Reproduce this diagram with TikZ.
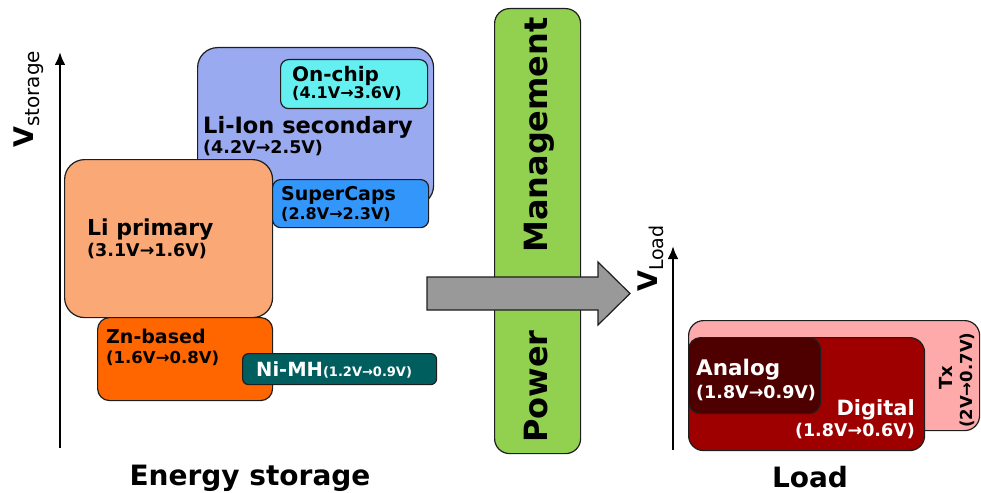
\documentclass[tikz,border=0pt]{standalone}
\usepackage{fontspec}
\setmainfont{DejaVu Sans}
\usetikzlibrary{arrows.meta}
\definecolor{liion}{RGB}{153,170,240}
\definecolor{onchip}{RGB}{100,240,240}
\definecolor{supercap}{RGB}{51,150,250}
\definecolor{liprim}{RGB}{250,168,118}
\definecolor{znb}{RGB}{255,102,0}
\definecolor{nimh}{RGB}{0,94,94}
\definecolor{pmgreen}{RGB}{146,208,80}
\definecolor{flowgray}{RGB}{153,153,153}
\definecolor{txpink}{RGB}{255,170,170}
\definecolor{digred}{RGB}{158,0,0}
\definecolor{anared}{RGB}{78,0,0}
\definecolor{edge}{RGB}{30,30,30}
\newcommand\fsz[1]{\fontsize{#1}{#1}\selectfont}
\begin{document}
\begin{tikzpicture}[x=1pt,y=-1pt,
  box/.style={draw=edge, line width=1.2pt, rounded corners=#1, inner sep=0pt, anchor=north west},
  box/.default=8pt,
  lbl/.style={inner sep=0pt, anchor=base west, font=\bfseries\fsz{#1}},
  lbl/.default=21,
  axis/.style={line width=2.8pt, -{Latex[length=13pt,width=11pt]}},
  title/.style={inner sep=0pt, anchor=base, font=\bfseries\fsz{28}}]
\useasboundingbox (0,0) rectangle (981,492);
% energy storage axis
\coordinate (s0) at (60,448);
\coordinate (s1) at (60,52);
\draw[axis] (s0) -- (s1);
\node[inner sep=0pt, anchor=base west, rotate=90] (vstor) at (33,148)
  {{\bfseries\fsz{27}V}\raisebox{-6pt}{\fsz{20}storage}};
% Li-Ion
\node[box=20pt, fill=liion, minimum width=236pt, minimum height=158pt] (liion) at (197,47) {};
\node[box=8pt, fill=onchip, minimum width=147pt, minimum height=49pt] (onchip) at (280,59) {};
\node[lbl=20] (onchipt) at (292,82) {On-chip};
\node[lbl=16] (onchipv) at (292,99) {(4.1V→3.6V)};
\node[lbl=22.5] (liiont) at (203,133) {Li-Ion secondary};
\node[lbl=17.5] (liionv) at (203,153) {(4.2V→2.5V)};
% Li primary
\node[box=20pt, fill=liprim, minimum width=208pt, minimum height=158pt] (liprim) at (64,159) {};
\node[lbl=22] (liprimt) at (87,235) {Li primary};
\node[lbl=17.5] (liprimv) at (87,256) {(3.1V→1.6V)};
% SuperCaps
\node[box=8pt, fill=supercap, minimum width=156pt, minimum height=48pt] (scap) at (272,179) {};
\node[lbl=19] (scapt) at (281,200) {SuperCaps};
\node[lbl=16] (scapv) at (281,219) {(2.8V→2.3V)};
% Zn-based
\node[box=12pt, fill=znb, minimum width=175pt, minimum height=83pt] (zn) at (97,317) {};
\node[lbl=19] (znt) at (106,343) {Zn-based};
\node[lbl=16.5] (znv) at (106,363) {(1.6V→0.8V)};
% Ni-MH
\node[box=6pt, fill=nimh, minimum width=194pt, minimum height=31pt] (nimh) at (242,353) {};
\node[lbl=19.5, text=white] (nimht) at (256,376) {Ni-MH{\fsz{13}(1.2V→0.9V)}};
\node[title] (es) at (250,485) {Energy storage};
% power management
\node[box=15pt, fill=pmgreen, minimum width=86pt, minimum height=445pt] (pm) at (494,8) {};
\node[lbl=32, rotate=90] (pmm) at (547,253) {Management};
\node[lbl=32, rotate=90] (pmp) at (547,443) {Power};
\draw[draw=edge, line width=1.2pt, fill=flowgray]
  (427,277) -- (598,277) -- (598,262) -- (630,293.5) -- (598,325) -- (598,310) -- (427,310) -- cycle;
% load axis
\coordinate (l0) at (673,450);
\coordinate (l1) at (673,246);
\draw[axis] (l0) -- (l1);
\node[inner sep=0pt, anchor=base west, rotate=90] (vload) at (657,292)
  {{\bfseries\fsz{27}V}\raisebox{-6pt}{\fsz{19}Load}};
% load boxes
\node[box=15pt, fill=txpink, minimum width=291pt, minimum height=110pt] (tx) at (688,320) {};
\node[lbl=18, rotate=90] (txt) at (952,390) {Tx};
\node[lbl=16.5, rotate=90] (txv) at (972,428) {(2V→0.7V)};
\node[box=15pt, fill=digred, minimum width=236pt, minimum height=113pt] (dig) at (688,337) {};
\node[box=12pt, fill=anared, minimum width=132pt, minimum height=76pt] (ana) at (688,337) {};
\node[lbl=21.5, text=white] (anat) at (696,375) {Analog};
\node[lbl=17.5, text=white] (anav) at (696,398) {(1.8V→0.9V)};
\node[lbl=21, text=white, anchor=base east] (digt) at (915,415) {Digital};
\node[lbl=17.5, text=white, anchor=base east] (digv) at (915,436) {(1.8V→0.6V)};
\node[title] (ld) at (810,487) {Load};
\end{tikzpicture}
\end{document}
